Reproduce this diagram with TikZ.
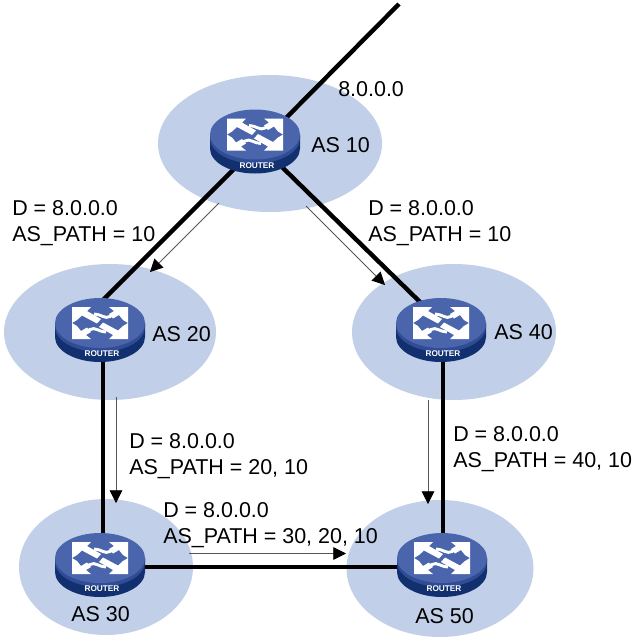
\documentclass[tikz,border=0pt]{standalone}
\usepackage{fontspec}
\setmainfont{Liberation Sans}
\usetikzlibrary{arrows.meta,calc}
\definecolor{cloud}{HTML}{C1D0E8}
\definecolor{rtop}{HTML}{4A65AC}
\definecolor{rrim}{HTML}{2F4C94}
\definecolor{rside}{HTML}{12306F}
\definecolor{thinline}{HTML}{555555}
\tikzset{
  x=0.75pt,y=-0.75pt,
  cloudshape/.style={fill=cloud,draw=none},
  routerbox/.style={inner sep=0pt,outer sep=0pt,minimum width=67.5pt,minimum height=48pt,draw=none},
  link/.style={line width=3.3pt,black},
  flow/.style={line width=0.6pt,draw=thinline,-{Triangle[length=9.5pt,width=9.5pt,black,fill=black]}},
  lbl/.style={inner sep=0pt,anchor=west,align=left,font=\fontsize{16.1}{19.5}\selectfont},
  arrowbody/.style={draw=white,line width=2.2pt,line cap=butt},
  arrowtip/.style={fill=white,draw=none},
}
\newcommand{\routerglyph}[1]{%
  \begin{scope}[shift={(#1)}]
    \fill[rside] (-45,-7) -- (-45,7) arc[start angle=180,end angle=0,x radius=45,y radius=25] -- (45,-7) -- cycle;
    \fill[rrim] (-45,-7) -- (-45,-3) arc[start angle=180,end angle=0,x radius=45,y radius=25] -- (45,-7) -- cycle;
    \fill[rtop] (0,-7) ellipse[x radius=45,y radius=25];
    \begin{scope}[shift={(0,-7)}]
      \fill[arrowtip] (-28,-16) -- (-9,-16) -- (-13,-12) -- (1,-4) -- (-3,0.5) -- (-18,-7.5) -- (-23,-3) -- (-28,0) -- cycle;
      \fill[arrowtip] (28,16) -- (9,16) -- (13,12) -- (-1,4) -- (3,-0.5) -- (18,7.5) -- (23,3) -- (28,0) -- cycle;
      \draw[arrowbody] (18,-11) -- (10,-6.5) .. controls (5,-3.5) and (1,-9) .. (-6,-9);
      \fill[arrowtip] (28,-16) -- (9,-16) -- (14,-12) -- (9,-9) -- (13,-4.5) -- (19,-8) -- (23,-3) -- (28,0) -- cycle;
      \draw[arrowbody] (-18,11) -- (-10,6.5) .. controls (-5,3.5) and (-1,9) .. (6,9);
      \fill[arrowtip] (-28,16) -- (-9,16) -- (-14,12) -- (-9,9) -- (-13,4.5) -- (-19,8) -- (-23,3) -- (-28,0) -- cycle;
    \end{scope}
    \node[text=white,inner sep=0pt,font=\bfseries\fontsize{6.2}{7}\selectfont] at (2,24) {ROUTER};
  \end{scope}}
\begin{document}
\begin{tikzpicture}
\useasboundingbox (0,0) rectangle (638,640);
% clouds
\fill[cloudshape] (270,143.5) ellipse[x radius=112,y radius=68.5];
\fill[cloudshape] (110,332) ellipse[x radius=106,y radius=68];
\fill[cloudshape] (454,332) ellipse[x radius=102,y radius=68];
\fill[cloudshape] (106,567) ellipse[x radius=87,y radius=68];
\fill[cloudshape] (440,568.5) ellipse[x radius=93.5,y radius=68.5];
% router anchors
\node[routerbox] (r10) at (255,141.5) {};
\node[routerbox] (r20) at (100,330) {};
\node[routerbox] (r40) at (441,330) {};
\node[routerbox] (r30) at (100,565) {};
\node[routerbox] (r50) at (442,565) {};
\coordinate (uplink) at (399,4);
% link ends on the router rims
\coordinate (c10ne) at (283,121);
\coordinate (c10sw) at (237,166);
\coordinate (c10se) at (279,164.1);
\coordinate (c20n) at (102,301);
\coordinate (c40nw) at (424,305.9);
% flow arrow ends
\coordinate (f1a) at (219,203); \coordinate (f1b) at (150,272);
\coordinate (f2a) at (306,206); \coordinate (f2b) at (385,285);
\coordinate (f3a) at (116,397); \coordinate (f3b) at (116,503);
\coordinate (f4a) at (428,400); \coordinate (f4b) at (428,504);
\coordinate (f5a) at (189,553.5); \coordinate (f5b) at (346,553.5);
% links
\draw[link] (c10ne) -- (uplink);
\draw[link] (c10sw) -- (c20n);
\draw[link] (c10se) -- (c40nw);
\draw[link] ($(r20)+(3,0)$) -- ($(r30)+(3,0)$);
\draw[link] ($(r30)+(0,2)$) -- ($(r50)+(0,2)$);
\draw[link] ($(r40)+(2,0)$) -- ($(r50)+(1,0)$);
% flows
\draw[flow] (f1a) -- (f1b);
\draw[flow] (f2a) -- (f2b);
\draw[flow] (f3a) -- (f3b);
\draw[flow] (f4a) -- (f4b);
\draw[flow] (f5a) -- (f5b);
% routers
\routerglyph{r10}
\routerglyph{r20}
\routerglyph{r40}
\routerglyph{r30}
\routerglyph{r50}
% labels
\node[lbl] (l0) at (338,89) {8.0.0.0};
\node[lbl] (n10) at (311,145) {AS 10};
\node[lbl] (n20) at (152,334) {AS 20};
\node[lbl] (n40) at (494,332) {AS 40};
\node[lbl] (n30) at (71,614) {AS 30};
\node[lbl] (n50) at (415,616) {AS 50};
\node[lbl] (l1) at (12,223) {D = 8.0.0.0\\AS\_PATH = 10};
\node[lbl] (l2) at (368,223) {D = 8.0.0.0\\AS\_PATH = 10};
\node[lbl] (l3) at (129,456) {D = 8.0.0.0\\AS\_PATH = 20, 10};
\node[lbl] (l4) at (453,449) {D = 8.0.0.0\\AS\_PATH = 40, 10};
\node[lbl] (l5) at (163,525.5) {D = 8.0.0.0\\AS\_PATH = 30, 20, 10};
\end{tikzpicture}
\end{document}
